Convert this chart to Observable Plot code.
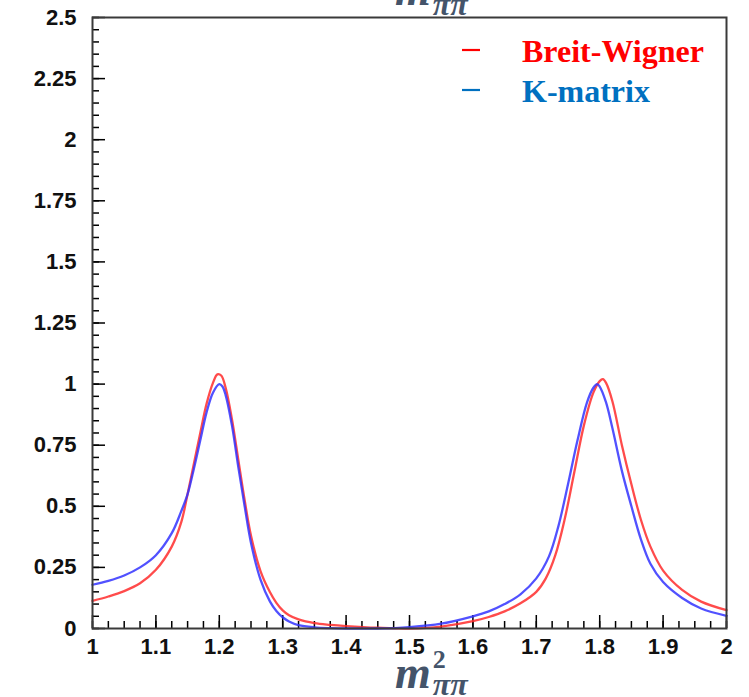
<!DOCTYPE html>
<html>
<head>
<meta charset="utf-8">
<script src="https://cdn.jsdelivr.net/npm/d3@7"></script>
<script src="https://cdn.jsdelivr.net/npm/@observablehq/plot@0.6"></script>
<style>
  html, body { margin: 0; padding: 0; background: #fff; }
  #chart { position: relative; width: 749px; height: 697px; }
</style>
</head>
<body>
<div id="chart"></div>
<script>
// ---- data ----
const xBW = [1.00, 1.025, 1.05, 1.075, 1.10, 1.125, 1.14, 1.15, 1.16, 1.17, 1.18, 1.19, 1.197, 1.203, 1.21, 1.22, 1.23, 1.24, 1.25, 1.265, 1.28, 1.29, 1.30, 1.31, 1.325, 1.35, 1.375, 1.40, 1.45, 1.50, 1.55, 1.60, 1.625, 1.65, 1.675, 1.70, 1.715, 1.73, 1.745, 1.76, 1.775, 1.79, 1.80, 1.805, 1.81, 1.82, 1.835, 1.85, 1.865, 1.88, 1.90, 1.93, 1.96, 2.00];
const yBW = [0.113, 0.131, 0.153, 0.185, 0.240, 0.335, 0.435, 0.55, 0.675, 0.80, 0.92, 1.005, 1.04, 1.035, 0.985, 0.855, 0.69, 0.525, 0.38, 0.235, 0.148, 0.105, 0.074, 0.054, 0.037, 0.022, 0.015, 0.010, 0.003, 0.000, 0.008, 0.030, 0.047, 0.070, 0.103, 0.150, 0.205, 0.30, 0.45, 0.64, 0.83, 0.965, 1.012, 1.02, 1.005, 0.93, 0.75, 0.59, 0.445, 0.335, 0.237, 0.158, 0.11, 0.075];

const xKM = [1.00, 1.025, 1.05, 1.075, 1.10, 1.125, 1.14, 1.15, 1.16, 1.17, 1.18, 1.19, 1.20, 1.205, 1.21, 1.22, 1.23, 1.24, 1.25, 1.265, 1.28, 1.29, 1.30, 1.31, 1.325, 1.35, 1.375, 1.40, 1.45, 1.50, 1.55, 1.60, 1.625, 1.65, 1.675, 1.70, 1.72, 1.735, 1.75, 1.765, 1.78, 1.79, 1.796, 1.80, 1.81, 1.82, 1.835, 1.85, 1.865, 1.88, 1.90, 1.93, 1.96, 2.00];
const yKM = [0.179, 0.195, 0.217, 0.25, 0.30, 0.39, 0.48, 0.55, 0.655, 0.77, 0.885, 0.965, 1.0, 0.99, 0.955, 0.83, 0.66, 0.50, 0.35, 0.20, 0.11, 0.072, 0.046, 0.029, 0.014, 0.005, 0.0015, 0.000, 0.000, 0.006, 0.020, 0.050, 0.070, 0.100, 0.140, 0.205, 0.295, 0.42, 0.59, 0.77, 0.925, 0.985, 1.0, 0.99, 0.925, 0.82, 0.645, 0.50, 0.365, 0.265, 0.19, 0.125, 0.082, 0.052];

const xTicks = [1, 1.1, 1.2, 1.3, 1.4, 1.5, 1.6, 1.7, 1.8, 1.9, 2];
const yTicks = [0, 0.25, 0.5, 0.75, 1, 1.25, 1.5, 1.75, 2, 2.25, 2.5];
const seriesNames = ["Breit-Wigner", "K-matrix"];
const seriesColors = ["#ff2b2b", "#3333ff"];
const legendColors = ["#ff0000", "#0070c0"];

// minor tick positions (subdivisions of the axes)
const xMinor = d3.range(0, 41).map(i => 1 + i * 0.025);
const yMinor = d3.range(0, 51).map(i => i * 0.05);

const bw = xBW.map((x, i) => ({x, y: yBW[i]}));
const km = xKM.map((x, i) => ({x, y: yKM[i]}));

const W = 749, H = 697;
const mL = 92, mR = 23, mT = 17, mB = 69;
const pw = W - mL - mR, ph = H - mT - mB;

const plot = Plot.plot({
  width: W, height: H,
  marginLeft: mL, marginRight: mR, marginTop: mT, marginBottom: mB,
  x: {domain: [1, 2]},
  y: {domain: [0, 2.5]},
  style: {fontFamily: "'Liberation Sans', Arial, sans-serif", fontWeight: "bold", fontSize: "22px", color: "#111", background: "#fff", overflow: "visible"},
  marks: [
    Plot.gridX(xMinor, {stroke: "#000", strokeOpacity: 1, strokeWidth: 1.5, insetTop: ph - 7}),
    Plot.gridX(xTicks, {stroke: "#000", strokeOpacity: 1, strokeWidth: 1.5, insetTop: ph - 13}),
    Plot.gridY(yMinor, {stroke: "#000", strokeOpacity: 1, strokeWidth: 1.5, insetRight: pw - 7}),
    Plot.gridY(yTicks, {stroke: "#000", strokeOpacity: 1, strokeWidth: 1.5, insetRight: pw - 13}),
    Plot.axisX(xTicks, {tickSize: 0, tickPadding: 10, tickFormat: d => String(d), label: null, fontSize: 22, fontWeight: "bold"}),
    Plot.axisY(yTicks, {tickSize: 0, tickPadding: 16, tickFormat: d => String(d), label: null, fontSize: 22, fontWeight: "bold"}),
    Plot.line(bw, {x: "x", y: "y", stroke: seriesColors[0], strokeWidth: 2.3, strokeOpacity: 0.85, curve: "catmull-rom"}),
    Plot.line(km, {x: "x", y: "y", stroke: seriesColors[1], strokeWidth: 2.3, strokeOpacity: 0.85, curve: "catmull-rom"}),
    Plot.frame({stroke: "#3a3a3a", strokeWidth: 2})
  ]
});
document.getElementById("chart").appendChild(plot);

const svg = d3.select(plot);

// legend
seriesNames.forEach((name, i) => {
  const y = 50 + i * 40;
  svg.append("line").attr("x1", 462).attr("x2", 480).attr("y1", y).attr("y2", y)
    .attr("stroke", legendColors[i]).attr("stroke-width", 2.2);
  svg.append("text").attr("x", 522).attr("y", y + 12)
    .attr("text-anchor", "start")
    .attr("font-family", "'Liberation Serif', 'Times New Roman', serif")
    .attr("font-weight", "bold").attr("font-size", 32)
    .attr("fill", legendColors[i]).text(name);
});

// axis titles (m_ππ on top, cut off; m²_ππ at bottom)
function mathLabel(x, y, withSquare) {
  const t = svg.append("text").attr("x", x).attr("y", y)
    .attr("text-anchor", "start")
    .attr("font-family", "'Liberation Serif', 'DejaVu Serif', serif")
    .attr("font-style", "italic").attr("font-weight", "bold")
    .attr("fill", "#44546a").attr("font-size", 46);
  t.append("tspan").text("m");
  if (withSquare) {
    t.append("tspan").attr("font-size", 26).attr("dx", 2).attr("dy", -20).attr("font-style", "normal").text("2");
    t.append("tspan").attr("font-size", 32).attr("dx", -13).attr("dy", 27).text("ππ");
  } else {
    t.append("tspan").attr("font-size", 32).attr("dx", 2).attr("dy", 10).text("ππ");
  }
}
mathLabel(395, 5, false);
mathLabel(395, 688, true);
</script>
</body>
</html>
